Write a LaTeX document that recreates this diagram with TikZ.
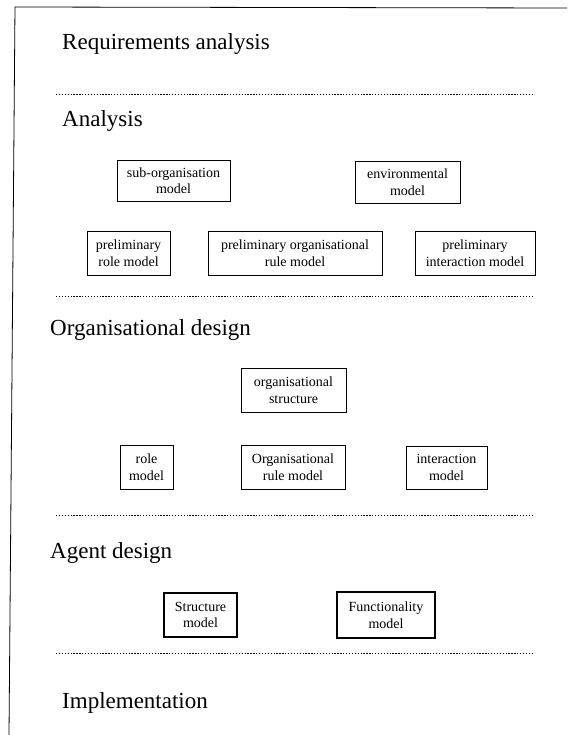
\documentclass[tikz,border=0pt]{standalone}
\usepackage{fontspec}
\setmainfont{Liberation Serif}
\begin{document}
\begin{tikzpicture}[x=1pt,y=-1pt,
  phase/.style={anchor=west,inner sep=0pt,font=\fontsize{23}{27}\selectfont},
  model/.style={draw,line width=0.6pt,align=center,inner sep=0pt,
    font=\fontsize{14}{16.5}\selectfont},
  strongmodel/.style={model,line width=1.1pt},
  divider/.style={line width=0.7pt,dash pattern=on 1.3pt off 1.6pt},
  frame/.style={line width=0.8pt}]
\useasboundingbox (0,0) rectangle (572,735);

% page frame (top and left edges)
\coordinate (ftl) at (15,7);
\coordinate (ftr) at (567,8);
\coordinate (fbl) at (9,735);
\draw[frame] (ftr) -- (ftl) -- (fbl);

% phase titles
\node[phase] (req)  at (62,44)  {Requirements analysis};
\node[phase] (ana)  at (62,121) {Analysis};
\node[phase] (org)  at (50,330) {Organisational design};
\node[phase] (agd)  at (50,553) {Agent design};
\node[phase] (impl) at (62,703) {Implementation};

% dotted dividers between phases
\foreach \y [count=\i] in {94,296,515,653}{
  \coordinate (dl\i) at (56,\y);
  \coordinate (dr\i) at (532,\y);
  \draw[divider] (dl\i) -- (dr\i);
}

% analysis models
\node[model,minimum width=113,minimum height=41] (suborg) at (173.5,180.5) {sub-organisation\\model};
\node[model,minimum width=105,minimum height=42] (env) at (407.5,182) {environmental\\model};
\node[model,minimum width=83,minimum height=44] (prole) at (128.5,253) {preliminary\\role model};
\node[model,minimum width=174,minimum height=44] (prule) at (295,253) {preliminary organisational\\rule model};
\node[model,minimum width=120,minimum height=44] (pinter) at (475,253) {preliminary\\interaction model};

% organisational design models
\node[model,minimum width=105,minimum height=44] (ostruct) at (293.5,390) {organisational\\structure};
\node[model,minimum width=53,minimum height=44] (role) at (146.5,467) {role\\model};
\node[model,minimum width=104,minimum height=44] (orule) at (293,467) {Organisational\\rule model};
\node[model,minimum width=81,minimum height=43] (inter) at (446.5,467.5) {interaction\\model};

% agent design models
\node[strongmodel,minimum width=73,minimum height=44] (smodel) at (200.5,615) {Structure\\model};
\node[strongmodel,minimum width=98,minimum height=46] (fmodel) at (386,615) {Functionality\\model};
\end{tikzpicture}
\end{document}
